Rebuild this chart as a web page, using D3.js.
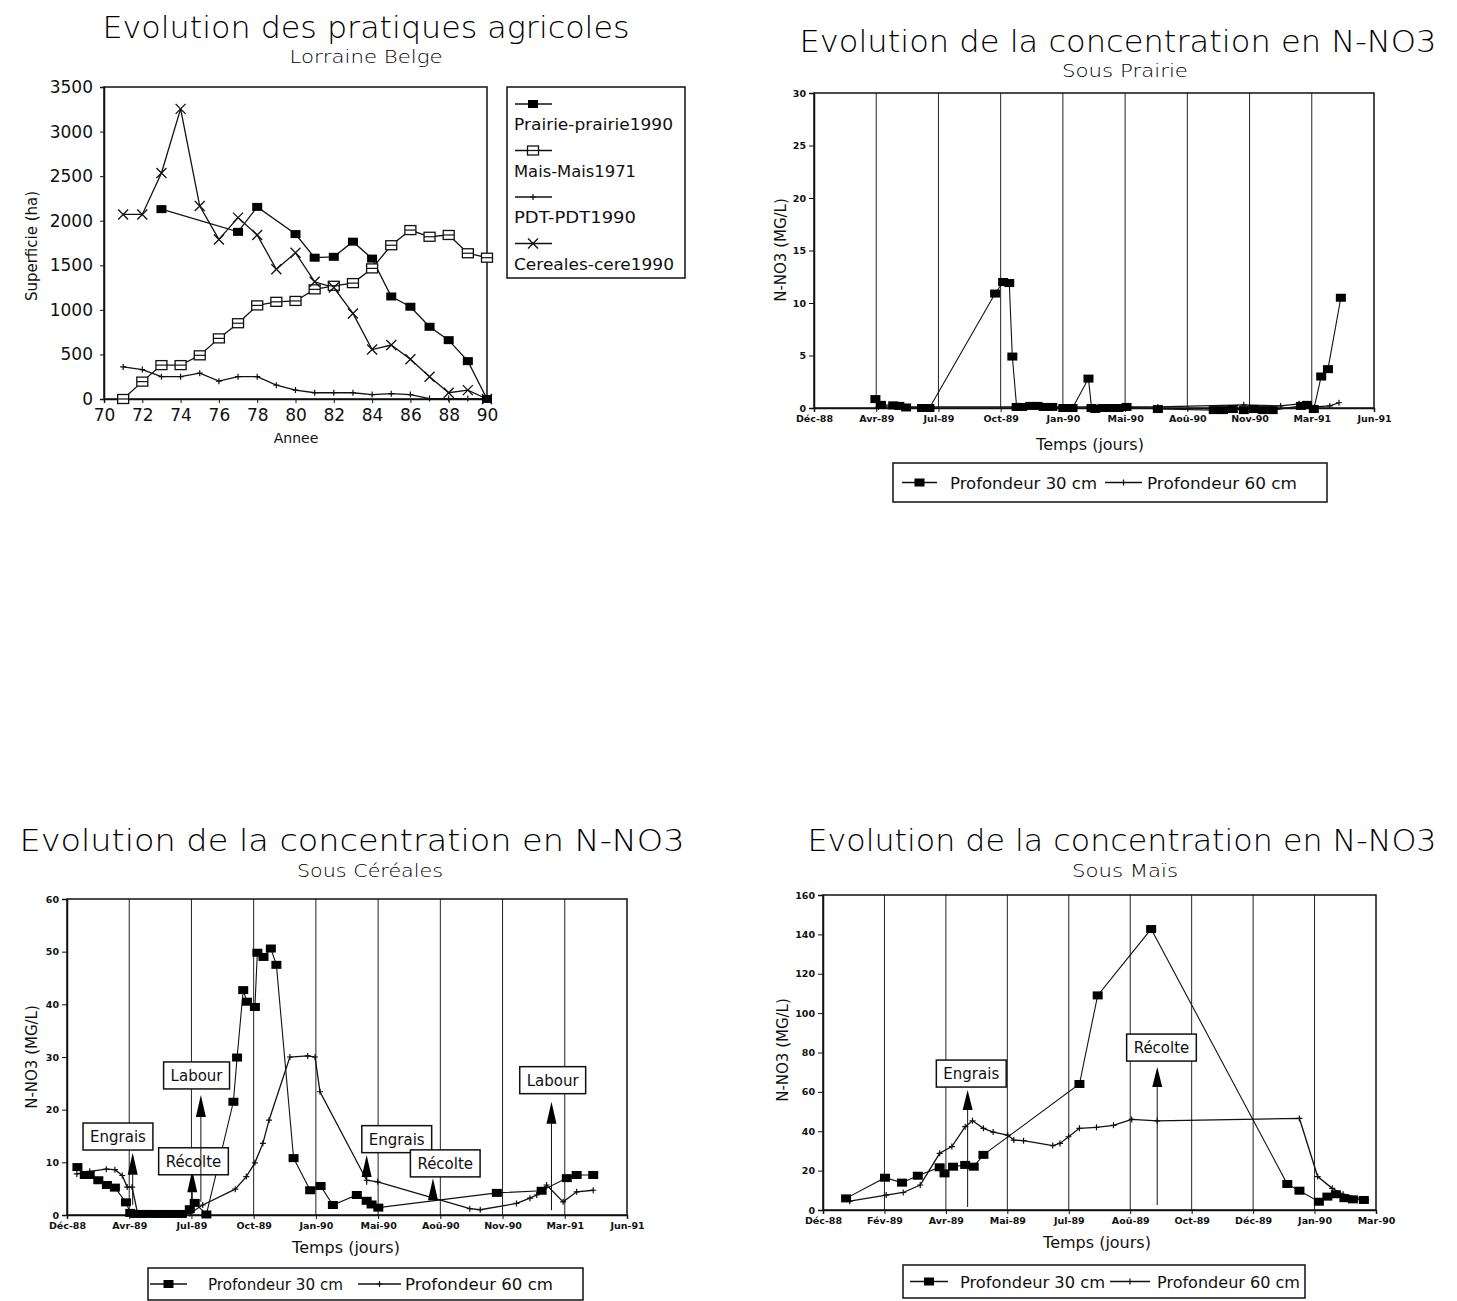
<!DOCTYPE html>
<html>
<head>
<meta charset="utf-8">
<script src="https://cdn.jsdelivr.net/npm/d3@7"></script>
<style>
  body { margin: 0; background: #fff; }
  text { font-family: "DejaVu Sans", sans-serif; fill: #111; }
</style>
</head>
<body>
<div id="canvas"></div>
<script>
const width = 1457;
const height = 1301;
const svg = d3.select("#canvas")
    .append("svg")
    .attr("width", width)
    .attr("height", height)
    .style("background", "#fff");

// ---------------- data : pratiques agricoles (ha) ----------------
const annees = [71, 72, 73, 74, 75, 76, 77, 78, 79, 80, 81, 82, 83, 84, 85, 86, 87, 88, 89, 90];
const anneesPrairie = [73, 77, 78, 80, 81, 82, 83, 84, 85, 86, 87, 88, 89, 90];
const prairie = [2130, 1875, 2155, 1850, 1585, 1595, 1765, 1575, 1150, 1035, 810, 660, 425, 0];
const mais = [0, 195, 380, 380, 490, 680, 850, 1050, 1090, 1100, 1230, 1270, 1300, 1465, 1725, 1895, 1820, 1840, 1635, 1585];
const pdt = [360, 330, 250, 250, 290, 200, 250, 250, 155, 100, 70, 70, 70, 50, 60, 50, 5, 5, 5, 0];
const cereales = [2070, 2070, 2535, 3255, 2165, 1790, 2035, 1840, 1455, 1640, 1315, 1250, 960, 555, 605, 445, 250, 70, 100, 0];
const seriesNoms = ["Prairie-prairie1990", "Mais-Mais1971", "PDT-PDT1990", "Cereales-cere1990"];
const superficieTicks = [0, 500, 1000, 1500, 2000, 2500, 3000, 3500];
const anneeTicks = [70, 72, 74, 76, 78, 80, 82, 84, 86, 88, 90];

// ---------------- data : N-NO3 (jour depuis le début, mg/l) ----------------
const moisLong = ["Déc-88", "Avr-89", "Jul-89", "Oct-89", "Jan-90", "Mai-90", "Aoû-90", "Nov-90", "Mar-91", "Jun-91"];
const moisMais = ["Déc-88", "Fév-89", "Avr-89", "Mai-89", "Jul-89", "Aoû-89", "Oct-89", "Déc-89", "Jan-90", "Mar-90"];
const dureeLong = 912;   // Déc-88 -> Jun-91
const dureeMais = 455;   // Déc-88 -> Mar-90
const ticksPrairie = [0, 5, 10, 15, 20, 25, 30];
const ticksCereales = [0, 10, 20, 30, 40, 50, 60];
const ticksMais = [0, 20, 40, 60, 80, 100, 120, 140, 160];
const legendeNoms = ["Profondeur 30 cm", "Profondeur 60 cm"];

const prairie30 = [[100, 0.85], [109, 0.3], [129, 0.25], [139, 0.2], [150, 0.05], [176, 0], [188, 0],
  [295, 10.9], [308, 12.0], [318, 11.9], [323, 4.9], [330, 0.1], [339, 0.1], [352, 0.2], [364, 0.2],
  [374, 0.1], [388, 0.1], [406, 0], [421, 0], [447, 2.8], [452, 0], [458, -0.1], [470, 0], [483, 0],
  [496, 0], [509, 0.1], [560, -0.1], [651, -0.2], [666, -0.2], [682, -0.1], [700, -0.2], [716, -0.1],
  [731, -0.2], [747, -0.2], [793, 0.2], [803, 0.3], [814, -0.1], [826, 3.0], [837, 3.7], [858, 10.5]];
const prairie60 = [[105, 0.1], [190, 0.1], [330, 0.1], [450, 0.1], [560, 0.1], [700, 0.3], [760, 0.2],
  [790, 0.4], [815, 0.1], [840, 0.2], [855, 0.5]];

const cereales30 = [[17, 9.1], [29, 7.6], [37, 7.6], [51, 6.6], [65, 5.7], [78, 5.2], [96, 2.4], [103, 0.4],
  [111, 0.2], [121, 0.2], [132, 0.2], [145, 0.2], [158, 0.2], [171, 0.2], [187, 0.2], [200, 1.1], [208, 2.3],
  [227, 0.1], [271, 21.5], [277, 29.9], [287, 42.7], [293, 40.5], [306, 39.5], [310, 49.8], [320, 49.0],
  [332, 50.6], [341, 47.5], [369, 10.8], [396, 4.7], [413, 5.5], [433, 1.9], [472, 3.8], [488, 2.7],
  [496, 2.0], [507, 1.4], [700, 4.2], [773, 4.6], [814, 7.0], [830, 7.6], [857, 7.6]];
const cereales60 = [[16, 7.8], [37, 8.3], [64, 8.7], [78, 8.6], [90, 7.5], [98, 5.3], [106, 5.3], [115, 0.3],
  [200, 0.3], [221, 1.9], [274, 4.9], [292, 7.3], [306, 9.9], [319, 13.6], [329, 18.0], [363, 30.0],
  [392, 30.2], [404, 30.0], [412, 23.4], [488, 6.6], [506, 6.3], [656, 1.2], [673, 1.0], [732, 2.2],
  [754, 3.2], [765, 3.8], [781, 5.7], [808, 2.5], [830, 4.4], [857, 4.7]];

const mais30 = [[19, 5.9], [51, 16.4], [65, 13.9], [78, 17.4], [96, 21.7], [100, 18.6], [107, 22.0],
  [117, 22.9], [124, 22.0], [132, 28.0], [211, 64.0], [226, 109.0], [270, 142.7], [382, 13.2], [392, 9.8],
  [408, 4.2], [415, 6.8], [422, 8.0], [429, 6.0], [436, 5.4], [445, 5.1]];
const mais60 = [[22, 4.5], [52, 7.6], [66, 8.9], [80, 12.7], [96, 28.8], [106, 32.2], [117, 42.3],
  [123, 45.3], [132, 41.5], [140, 39.6], [152, 38.0], [157, 35.5], [165, 35.2], [189, 32.7], [195, 33.8],
  [202, 37.2], [211, 41.5], [225, 42.0], [239, 43.0], [254, 46.0], [275, 45.3], [392, 46.5], [407, 17.0],
  [419, 11.0], [428, 8.0], [447, 5.1]];

// annotations (jour de la flèche, pointe / pied en mg/l, centre de la boîte)
const annotCereales = [
  { texte: "Engrais", jour: 107, pointe: 11.8, pied: 1.9, bJour: 83, bVal: 14.9 },
  { texte: "Récolte", jour: 204, pointe: 8.5, pied: 1.9, bJour: 206, bVal: 10.2 },
  { texte: "Labour", jour: 218, pointe: 22.8, pied: 2.5, bJour: 211, bVal: 26.5 },
  { texte: "Engrais", jour: 488, pointe: 11.4, pied: 5.7, bJour: 537, bVal: 14.4 },
  { texte: "Récolte", jour: 596, pointe: 7.0, pied: 2.8, bJour: 616, bVal: 9.8 },
  { texte: "Labour", jour: 789, pointe: 21.5, pied: 0.9, bJour: 791, bVal: 25.6 }
];
const annotMais = [
  { texte: "Engrais", jour: 119, pointe: 61, pied: 1.5, bJour: 122, bVal: 69.3 },
  { texte: "Récolte", jour: 275, pointe: 72.6, pied: 2.5, bJour: 278.5, bVal: 82.5 }
];

// ---------------- helpers ----------------
function titre(txt, cx, base, size, len) {
    svg.append("text")
        .attr("x", cx).attr("y", base)
        .attr("text-anchor", "middle")
        .attr("font-size", size)
        .attr("font-weight", 200)
        .attr("textLength", len)
        .attr("lengthAdjust", "spacingAndGlyphs")
        .style("fill", "#000")
        .text(txt);
}

function marker(g, type, cx, cy) {
    if (type === "carre") {
        g.append("rect").attr("x", cx - 5).attr("y", cy - 4).attr("width", 10).attr("height", 8).attr("fill", "#000");
    } else if (type === "ouvert") {
        g.append("rect").attr("x", cx - 5.5).attr("y", cy - 4.5).attr("width", 11).attr("height", 9)
            .attr("fill", "#fff").attr("stroke", "#111").attr("stroke-width", 1.3);
        g.append("line").attr("x1", cx - 5.5).attr("x2", cx + 5.5).attr("y1", cy).attr("y2", cy)
            .attr("stroke", "#111").attr("stroke-width", 1.2);
    } else if (type === "plus") {
        g.append("path").attr("d", `M${cx - 3},${cy}H${cx + 3}M${cx},${cy - 3}V${cy + 3}`)
            .attr("stroke", "#111").attr("stroke-width", 1.2);
    } else if (type === "croix") {
        g.append("path").attr("d", `M${cx - 5},${cy - 5}L${cx + 5},${cy + 5}M${cx - 5},${cy + 5}L${cx + 5},${cy - 5}`)
            .attr("stroke", "#111").attr("stroke-width", 1.3);
    }
}

// ---------------- chart 1 : pratiques agricoles ----------------
(function () {
    const x = d3.scaleLinear().domain([70, 90]).range([104, 487]);
    const y = d3.scaleLinear().domain([0, 3500]).range([399, 87]);
    const g = svg.append("g");

    g.append("rect").attr("x", 104).attr("y", 87).attr("width", 383).attr("height", 312)
        .attr("fill", "none").attr("stroke", "#111").attr("stroke-width", 1.5);

    const ay = g.append("g").attr("transform", "translate(104,0)")
        .call(d3.axisLeft(y).tickValues(superficieTicks).tickFormat(d3.format("d")).tickSize(4).tickPadding(7));
    const axx = g.append("g").attr("transform", "translate(0,399)")
        .call(d3.axisBottom(x).tickValues(anneeTicks).tickFormat(d3.format("d")).tickSize(4).tickPadding(6));
    [ay, axx].forEach(a => {
        a.select(".domain").attr("stroke", "#111").attr("stroke-width", 1.5);
        a.selectAll("line").attr("stroke", "#111");
        a.selectAll("text").attr("font-size", 17).attr("font-family", "DejaVu Sans").attr("fill", "#111");
    });

    g.append("text").attr("transform", "translate(37,246) rotate(-90)").attr("text-anchor", "middle")
        .attr("font-size", 15).text("Superficie (ha)");
    g.append("text").attr("x", 296).attr("y", 443).attr("text-anchor", "middle")
        .attr("font-size", 14).text("Annee");

    const line = d3.line().x(d => x(d[0])).y(d => y(d[1]));
    const series = [
        { pts: anneesPrairie.map((a, i) => [a, prairie[i]]), m: "carre" },
        { pts: annees.map((a, i) => [a, mais[i]]), m: "ouvert" },
        { pts: annees.map((a, i) => [a, pdt[i]]), m: "plus" },
        { pts: annees.map((a, i) => [a, cereales[i]]), m: "croix" }
    ];
    series.forEach(s => {
        g.append("path").datum(s.pts).attr("d", line).attr("fill", "none")
            .attr("stroke", "#111").attr("stroke-width", 1.3);
    });
    series.forEach(s => s.pts.forEach(p => marker(g, s.m, x(p[0]), y(p[1]))));

    // legend
    g.append("rect").attr("x", 507).attr("y", 87).attr("width", 178).attr("height", 191)
        .attr("fill", "none").attr("stroke", "#111").attr("stroke-width", 1.5);
    series.forEach((s, i) => {
        const sy = 104 + i * 46.5;
        g.append("line").attr("x1", 515).attr("x2", 552).attr("y1", sy).attr("y2", sy)
            .attr("stroke", "#111").attr("stroke-width", 1.3);
        marker(g, s.m, 533, sy);
        g.append("text").attr("x", 514).attr("y", sy + 26).attr("font-size", 15)
            .attr("textLength", [159, 122, 122, 160][i]).attr("lengthAdjust", "spacingAndGlyphs")
            .text(seriesNoms[i]);
    });
})();

titre("Evolution des pratiques agricoles", 366, 38, 31, 527);
titre("Lorraine Belge", 366, 63, 18, 153);

// ---------------- N-NO3 charts ----------------
function graphNO3(o) {
    const x = d3.scaleLinear().domain([0, o.duree]).range([o.X0, o.X1]);
    const y = d3.scaleLinear().domain([0, o.yTicks[o.yTicks.length - 1]]).range([o.Y1, o.Y0]);
    const g = svg.append("g");
    const tickJours = o.mois.map((m, i) => i * o.duree / (o.mois.length - 1));

    g.selectAll(".grille").data(tickJours.slice(1, -1)).join("line")
        .attr("x1", d => x(d)).attr("x2", d => x(d)).attr("y1", o.Y0).attr("y2", o.Y1)
        .attr("stroke", "#222").attr("stroke-width", 1);
    g.append("rect").attr("x", o.X0).attr("y", o.Y0).attr("width", o.X1 - o.X0).attr("height", o.Y1 - o.Y0)
        .attr("fill", "none").attr("stroke", "#111").attr("stroke-width", 1.5);

    const ay = g.append("g").attr("transform", `translate(${o.X0},0)`)
        .call(d3.axisLeft(y).tickValues(o.yTicks).tickSize(5).tickPadding(3));
    const axx = g.append("g").attr("transform", `translate(0,${o.Y1})`)
        .call(d3.axisBottom(x).tickValues(tickJours).tickFormat((d, i) => o.mois[i]).tickSize(4).tickPadding(3));
    [ay, axx].forEach(a => {
        a.select(".domain").attr("stroke", "#111").attr("stroke-width", 1.5);
        a.selectAll("line").attr("stroke", "#111");
        a.selectAll("text").attr("font-size", 9.5).attr("font-weight", "bold")
            .attr("font-family", "DejaVu Sans Condensed, DejaVu Sans").attr("fill", "#111");
    });

    g.append("text").attr("transform", `translate(${o.yLabX},${o.yLabY}) rotate(-90)`).attr("text-anchor", "middle")
        .attr("font-size", 15).text("N-NO3  (MG/L)");
    g.append("text").attr("x", o.xLabX).attr("y", o.xLabY).attr("text-anchor", "middle")
        .attr("font-size", 16).text("Temps (jours)");

    const line = d3.line().x(d => x(d[0])).y(d => y(d[1]));
    g.append("path").datum(o.s60).attr("d", line).attr("fill", "none").attr("stroke", "#111").attr("stroke-width", 1.3);
    g.append("path").datum(o.s30).attr("d", line).attr("fill", "none").attr("stroke", "#111").attr("stroke-width", 1.1);
    o.s60.forEach(p => marker(g, "plus", x(p[0]), y(p[1])));
    o.s30.forEach(p => marker(g, "carre", x(p[0]), y(p[1])));

    // annotations
    (o.annots || []).forEach(a => {
        const ax = x(a.jour), tip = y(a.pointe), foot = y(a.pied), th = o.triH;
        g.append("line").attr("x1", ax).attr("x2", ax).attr("y1", tip + th).attr("y2", foot)
            .attr("stroke", "#111").attr("stroke-width", 1);
        g.append("path").attr("d", `M${ax},${tip}L${ax - 5},${tip + th}L${ax + 5},${tip + th}Z`).attr("fill", "#000");
        const bx = x(a.bJour), by = y(a.bVal);
        const box = g.append("rect").attr("y", by - 13.5).attr("height", 27)
            .attr("fill", "#fff").attr("stroke", "#111").attr("stroke-width", 1.5);
        const t = g.append("text").attr("x", bx).attr("y", by + 5.5).attr("text-anchor", "middle")
            .attr("font-size", 15).text(a.texte);
        const w = t.node().getComputedTextLength() + 14;
        box.attr("x", bx - w / 2).attr("width", w);
    });

    // legend
    const L = o.leg;
    g.append("rect").attr("x", L.x0).attr("y", L.y0).attr("width", L.x1 - L.x0).attr("height", L.y1 - L.y0)
        .attr("fill", "none").attr("stroke", "#111").attr("stroke-width", 1.5);
    const ly = (L.y0 + L.y1) / 2;
    L.items.forEach((it, i) => {
        g.append("line").attr("x1", it.l0).attr("x2", it.l1).attr("y1", ly).attr("y2", ly)
            .attr("stroke", "#111").attr("stroke-width", 1.3);
        marker(g, i === 0 ? "carre" : "plus", (it.l0 + it.l1) / 2, ly);
        g.append("text").attr("x", it.t).attr("y", ly + 6).attr("font-size", 16)
            .attr("textLength", it.tl).attr("lengthAdjust", "spacingAndGlyphs").text(legendeNoms[i]);
    });
}

graphNO3({
    X0: 814, X1: 1374, Y0: 93, Y1: 408, duree: dureeLong, mois: moisLong, yTicks: ticksPrairie,
    s30: prairie30, s60: prairie60, triH: 20,
    yLabX: 786, yLabY: 250, xLabX: 1090, xLabY: 450,
    leg: { x0: 893, x1: 1327, y0: 463, y1: 502,
        items: [{ l0: 902, l1: 937, t: 950, tl: 147 }, { l0: 1105, l1: 1142, t: 1147, tl: 150 }] }
});
titre("Evolution de la concentration en N-NO3", 1118, 52, 31, 637);
titre("Sous Prairie", 1125, 77, 18, 126);

graphNO3({
    X0: 67, X1: 627, Y0: 899, Y1: 1215, duree: dureeLong, mois: moisLong, yTicks: ticksCereales,
    s30: cereales30, s60: cereales60, annots: annotCereales, triH: 22,
    yLabX: 37, yLabY: 1057, xLabX: 346, xLabY: 1253,
    leg: { x0: 148, x1: 583, y0: 1268, y1: 1300,
        items: [{ l0: 150, l1: 187, t: 208, tl: 135 }, { l0: 358, l1: 401, t: 405, tl: 148 }] }
});
titre("Evolution de la concentration en N-NO3", 352, 851, 31, 665);
titre("Sous Céréales", 370, 877, 18, 146);

graphNO3({
    X0: 823, X1: 1376, Y0: 895, Y1: 1210, duree: dureeMais, mois: moisMais, yTicks: ticksMais,
    s30: mais30, s60: mais60, annots: annotMais, triH: 20,
    yLabX: 788, yLabY: 1050, xLabX: 1097, xLabY: 1248,
    leg: { x0: 903, x1: 1305, y0: 1265, y1: 1298,
        items: [{ l0: 910, l1: 948, t: 960, tl: 145 }, { l0: 1110, l1: 1150, t: 1157, tl: 143 }] }
});
titre("Evolution de la concentration en N-NO3", 1122, 851, 31, 629);
titre("Sous Maïs", 1125, 877, 18, 106);
</script>
</body>
</html>
